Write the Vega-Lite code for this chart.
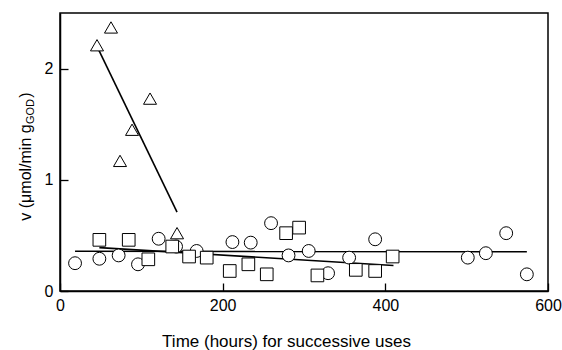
{
  "$schema": "https://vega.github.io/schema/vega-lite/v6.json",
  "width": 488,
  "height": 278,
  "autosize": "none",
  "padding": {"left": 60, "top": 13, "right": 14, "bottom": 59},
  "background": "white",
  "config": {
    "view": {"stroke": "black", "strokeWidth": 1.5},
    "font": "Liberation Sans",
    "axis": {"grid": false, "labelFlush": false, "domainColor": "black", "domainWidth": 1.5, "tickColor": "black", "tickWidth": 1.3, "labelColor": "black", "titleColor": "black", "labelFont": "Liberation Sans", "titleFont": "Liberation Sans", "titleFontWeight": "normal"}
  },
  "datasets": {
    "pts": [
      {"s": "tri", "t": 45.5, "v": 2.21},
      {"s": "tri", "t": 62.7, "v": 2.37},
      {"s": "tri", "t": 110.7, "v": 1.73},
      {"s": "tri", "t": 88.6, "v": 1.45},
      {"s": "tri", "t": 73.8, "v": 1.17},
      {"s": "tri", "t": 143.9, "v": 0.52},
      {"s": "circ", "t": 18.5, "v": 0.25},
      {"s": "circ", "t": 48.4, "v": 0.29},
      {"s": "circ", "t": 72.1, "v": 0.32},
      {"s": "circ", "t": 95.9, "v": 0.24},
      {"s": "circ", "t": 121.3, "v": 0.47},
      {"s": "circ", "t": 142.7, "v": 0.40},
      {"s": "circ", "t": 168.0, "v": 0.36},
      {"s": "circ", "t": 212.0, "v": 0.44},
      {"s": "circ", "t": 234.5, "v": 0.435},
      {"s": "circ", "t": 259.5, "v": 0.61},
      {"s": "circ", "t": 281.0, "v": 0.32},
      {"s": "circ", "t": 305.8, "v": 0.36},
      {"s": "circ", "t": 329.6, "v": 0.16},
      {"s": "circ", "t": 355.5, "v": 0.30},
      {"s": "circ", "t": 387.5, "v": 0.465},
      {"s": "circ", "t": 501.4, "v": 0.30},
      {"s": "circ", "t": 523.6, "v": 0.34},
      {"s": "circ", "t": 548.6, "v": 0.52},
      {"s": "circ", "t": 574.0, "v": 0.15},
      {"s": "sq", "t": 48.4, "v": 0.46},
      {"s": "sq", "t": 84.5, "v": 0.46},
      {"s": "sq", "t": 108.6, "v": 0.285},
      {"s": "sq", "t": 138.0, "v": 0.40},
      {"s": "sq", "t": 158.7, "v": 0.31},
      {"s": "sq", "t": 180.4, "v": 0.30},
      {"s": "sq", "t": 208.7, "v": 0.18},
      {"s": "sq", "t": 231.6, "v": 0.24},
      {"s": "sq", "t": 254.2, "v": 0.15},
      {"s": "sq", "t": 278.0, "v": 0.52},
      {"s": "sq", "t": 294.0, "v": 0.57},
      {"s": "sq", "t": 316.5, "v": 0.14},
      {"s": "sq", "t": 363.7, "v": 0.19},
      {"s": "sq", "t": 387.5, "v": 0.18},
      {"s": "sq", "t": 409.0, "v": 0.31}
    ],
    "fits": [
      {"s": "tri", "t": 45.5, "v": 2.2},
      {"s": "tri", "t": 143.9, "v": 0.71},
      {"s": "circ", "t": 18.5, "v": 0.357},
      {"s": "circ", "t": 574, "v": 0.354},
      {"s": "sq", "t": 48.4, "v": 0.39},
      {"s": "sq", "t": 410, "v": 0.23}
    ]
  },
  "layer": [
    {
      "data": {"name": "fits"},
      "mark": {"type": "line", "color": "black", "strokeWidth": 1.6},
      "encoding": {
        "x": {"field": "t", "type": "quantitative", "scale": {"domain": [0, 600], "nice": false},
          "axis": {"values": [0, 200, 400, 600], "tickSize": -8, "labelPadding": 14, "labelFontSize": 16, "title": "Time (hours) for successive uses", "titleFontSize": 17, "titlePadding": 20, "titleX": 226}},
        "y": {"field": "v", "type": "quantitative", "scale": {"domain": [0, 2.5], "nice": false},
          "axis": {"orient": "right", "labels": false, "ticks": false, "domain": false, "title": "GOD", "titleFontSize": 11, "titleAngle": 270, "titleX": -518, "titleY": 98, "titleBaseline": "middle", "titleAlign": "center"}},
        "detail": {"field": "s"}
      }
    },
    {
      "data": {"name": "pts"},
      "mark": {"type": "point", "filled": false, "fill": "white", "fillOpacity": 1, "stroke": "black", "strokeWidth": 1, "opacity": 1},
      "encoding": {
        "x": {"field": "t", "type": "quantitative"},
        "y": {"field": "v", "type": "quantitative", "scale": {"domain": [0, 2.5], "nice": false},
          "axis": {"orient": "left", "values": [0, 1, 2], "tickSize": -8, "labelPadding": 15, "labelFontSize": 16, "title": "v (μmol/min g\u00a0\u00a0\u00a0\u00a0\u00a0\u00a0)", "titleFontSize": 16, "titleAngle": 270, "titleX": -35, "titleY": 143, "titleBaseline": "middle", "titleAlign": "center"}},
        "shape": {"field": "s", "type": "nominal", "scale": {"domain": ["tri", "circ", "sq"], "range": ["triangle-up", "circle", "square"]}, "legend": null},
        "size": {"field": "s", "type": "nominal", "scale": {"domain": ["tri", "circ", "sq"], "range": [170, 160, 110]}, "legend": null}
      }
    }
  ],
  "resolve": {"scale": {"y": "independent"}}
}
